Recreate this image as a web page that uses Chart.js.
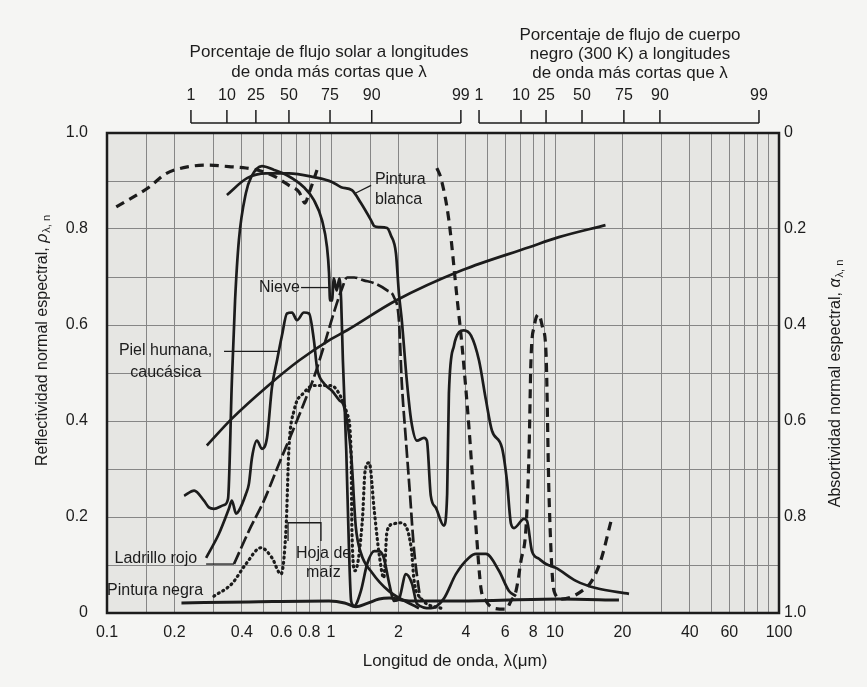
<!DOCTYPE html>
<html>
<head>
<meta charset="utf-8">
<script src="https://cdn.jsdelivr.net/npm/chart.js@4.4.1/dist/chart.umd.min.js"></script>
<style>
  html, body { margin: 0; padding: 0; background: #f5f5f3; }
  canvas { display: block; }
</style>
</head>
<body>
<canvas id="grafico" width="867" height="687"></canvas>
<script>
// ---- datos (longitud de onda en micras, reflectividad) ----

const lineasGrilla = [0.1, 0.15, 0.2, 0.3, 0.4, 0.5, 0.6, 0.7, 0.8, 0.9,
  1, 1.5, 2, 3, 4, 5, 6, 7, 8, 9, 10, 15, 20, 30, 40, 50, 60, 70, 80, 90, 100];
const etiquetasX = [0.1, 0.2, 0.4, 0.6, 0.8, 1, 2, 4, 6, 8, 10, 20, 40, 60, 100];

// escala superior: porcentaje de flujo solar
const solarPct = ['1', '10', '25', '50', '75', '90', '99'];
const solarLambda = [0.237, 0.343, 0.462, 0.649, 0.99, 1.52, 3.8];
// escala superior: cuerpo negro a 300 K
const negroPct = ['1', '10', '25', '50', '75', '90', '99'];
const negroLambda = [4.58, 7.05, 9.12, 13.2, 20.3, 29.4, 81.4];

// Pintura blanca
const blancaLambda = [0.343, 0.422, 0.513, 0.649, 0.839, 1.01, 1.11, 1.24, 1.36, 1.51, 1.56, 1.64, 1.78, 1.85, 1.95, 2.01, 2.07, 2.18, 2.28, 2.42, 2.60, 2.68, 2.79, 2.94, 3.19, 3.30, 3.36, 3.54, 3.73, 3.92, 4.22, 4.58, 4.92, 5.23, 5.80, 6.10, 6.36, 6.56, 7.27, 7.50, 7.89, 8.48, 9.12, 10.1, 12.4, 15.2, 21.4];
const blancaRho = [0.871, 0.906, 0.916, 0.916, 0.908, 0.898, 0.887, 0.881, 0.854, 0.818, 0.806, 0.804, 0.802, 0.787, 0.749, 0.666, 0.610, 0.484, 0.401, 0.359, 0.365, 0.359, 0.244, 0.219, 0.182, 0.248, 0.457, 0.557, 0.585, 0.589, 0.578, 0.526, 0.443, 0.380, 0.344, 0.276, 0.186, 0.177, 0.196, 0.192, 0.129, 0.113, 0.102, 0.094, 0.067, 0.052, 0.040];

// Nieve
const nieveLambda = [0.221, 0.245, 0.271, 0.285, 0.300, 0.333, 0.347, 0.361, 0.373, 0.388, 0.417, 0.440, 0.492, 0.557, 0.636, 0.757, 0.839, 0.912, 0.960, 0.980, 0.990, 1.01, 1.03, 1.06, 1.09, 1.11, 1.13, 1.17, 1.20, 1.23, 1.27, 1.36, 1.45, 1.56, 1.64, 1.72, 1.82, 1.91, 2.01, 2.16, 2.30, 2.42, 2.79, 3.19, 3.61, 4.13, 4.44, 4.92, 5.62, 6.23, 6.70];
const nieveRho = [0.244, 0.255, 0.234, 0.220, 0.217, 0.225, 0.238, 0.484, 0.651, 0.777, 0.875, 0.908, 0.931, 0.923, 0.912, 0.887, 0.860, 0.818, 0.762, 0.708, 0.651, 0.651, 0.697, 0.672, 0.697, 0.651, 0.526, 0.338, 0.150, 0.025, 0.015, 0.046, 0.102, 0.129, 0.129, 0.115, 0.061, 0.025, 0.029, 0.081, 0.061, 0.019, 0.010, 0.030, 0.081, 0.115, 0.123, 0.123, 0.088, 0.046, 0.035];

// Piel humana, caucasica
const pielLambda = [0.277, 0.316, 0.350, 0.361, 0.377, 0.388, 0.417, 0.430, 0.444, 0.467, 0.492, 0.518, 0.545, 0.574, 0.604, 0.636, 0.670, 0.705, 0.757, 0.798, 0.839, 0.866, 0.931, 1.01, 1.09, 1.14, 1.23, 1.29, 1.36, 1.52, 1.82, 2.47];
const pielRho = [0.115, 0.165, 0.217, 0.234, 0.207, 0.213, 0.248, 0.269, 0.324, 0.359, 0.342, 0.365, 0.470, 0.526, 0.578, 0.624, 0.626, 0.610, 0.626, 0.624, 0.568, 0.511, 0.478, 0.463, 0.443, 0.432, 0.330, 0.180, 0.125, 0.085, 0.045, 0.010];

// Ladrillo rojo
const ladrilloLambda = [0.369, 0.430, 0.502, 0.586, 0.684, 0.781, 0.839, 0.931, 1.03, 1.12, 1.18, 1.27, 1.40, 1.56, 1.78, 1.91, 2.01, 2.07, 2.16, 2.25, 2.35, 2.50];
const ladrilloRho = [0.102, 0.171, 0.234, 0.311, 0.386, 0.453, 0.491, 0.557, 0.626, 0.676, 0.699, 0.699, 0.693, 0.687, 0.672, 0.658, 0.610, 0.480, 0.360, 0.250, 0.130, 0.030];

// Hoja de maiz
const maizLambda = [0.300, 0.361, 0.417, 0.487, 0.545, 0.598, 0.630, 0.649, 0.684, 0.757, 0.839, 1.00, 1.11, 1.18, 1.23, 1.24, 1.28, 1.38, 1.42, 1.48, 1.56, 1.64, 1.72, 1.78, 1.91, 2.05, 2.28, 2.35, 2.52, 3.19];
const maizRho = [0.035, 0.061, 0.102, 0.136, 0.115, 0.081, 0.177, 0.344, 0.422, 0.459, 0.474, 0.474, 0.449, 0.415, 0.332, 0.171, 0.088, 0.192, 0.296, 0.313, 0.213, 0.123, 0.073, 0.171, 0.186, 0.188, 0.136, 0.067, 0.031, 0.008];

// Pintura negra
const negraLambda = [0.215, 0.430, 0.98, 1.15, 1.29, 1.45, 1.64, 1.82, 2.23, 3.73, 10.4, 19.3];
const negraRho = [0.021, 0.023, 0.025, 0.021, 0.013, 0.020, 0.029, 0.031, 0.025, 0.025, 0.029, 0.027];

// curva lisa creciente (sin etiqueta)
const lisaLambda = [0.279, 0.361, 0.513, 0.720, 0.980, 1.18, 1.95, 3.84, 7.66, 10.4, 16.8];
const lisaRho = [0.349, 0.405, 0.470, 0.526, 0.568, 0.589, 0.651, 0.714, 0.762, 0.783, 0.808];

// curva a trazos gruesos (dos tramos, sin etiqueta)
const trazosLambdaA = [0.110, 0.154, 0.183, 0.232, 0.285, 0.350, 0.417, 0.502, 0.568, 0.649, 0.720, 0.765, 0.798, 0.866];
const trazosRhoA = [0.846, 0.887, 0.915, 0.930, 0.933, 0.930, 0.927, 0.919, 0.908, 0.891, 0.877, 0.854, 0.875, 0.923];
const trazosLambdaB = [2.97, 3.10, 3.36, 3.65, 3.84, 4.13, 4.44, 4.67, 4.92, 5.34, 6.04, 6.36, 6.70, 7.05, 7.42, 7.66, 7.81, 8.10, 8.45, 8.80, 9.12, 9.40, 9.90, 10.7, 13.2, 14.6, 16.0, 17.8];
const trazosRhoB = [0.927, 0.905, 0.818, 0.658, 0.560, 0.386, 0.177, 0.052, 0.025, 0.010, 0.008, 0.025, 0.046, 0.109, 0.177, 0.338, 0.526, 0.600, 0.622, 0.595, 0.541, 0.248, 0.046, 0.029, 0.046, 0.067, 0.109, 0.192];

// ---- estilo ----
const FUENTE = "'Liberation Sans', Arial, sans-serif";
const TINTA = '#1c1c1c';
const GRILLA = '#868686';

function puntos(lam, rho) {
  return lam.map((x, i) => ({ x: x, y: rho[i] }));
}

// anotaciones en coordenadas de datos (lambda, rho)
const textos = [
  { t: 'Pintura', x: 1.57, y: 0.902 },
  { t: 'blanca', x: 1.57, y: 0.862 },
  { t: 'Nieve', x: 0.477, y: 0.678 },
  { t: 'Piel humana,', x: 0.113, y: 0.547 },
  { t: 'caucásica', x: 0.127, y: 0.501 },
  { t: 'Ladrillo rojo', x: 0.108, y: 0.113 },
  { t: 'Pintura negra', x: 0.1, y: 0.046 },
  { t: 'Hoja de', x: 0.698, y: 0.123 },
  { t: 'maíz', x: 0.774, y: 0.084 }
];
const guias = [
  [[1.51, 0.891], [1.29, 0.875]],
  [[0.735, 0.678], [0.98, 0.678]],
  [[0.333, 0.545], [0.58, 0.545]],
  [[0.277, 0.102], [0.369, 0.102]],
  [[0.643, 0.150], [0.643, 0.188], [0.902, 0.188], [0.902, 0.150]]
];

function tituloGirado(ctx, cx, cy, principal, griega, sub, size) {
  ctx.save();
  ctx.translate(cx, cy);
  ctx.rotate(-Math.PI / 2);
  ctx.fillStyle = TINTA;
  ctx.textBaseline = 'middle';
  ctx.textAlign = 'left';
  ctx.font = size + 'px ' + FUENTE;
  const w1 = ctx.measureText(principal).width;
  ctx.font = 'italic ' + size + 'px ' + FUENTE;
  const w2 = ctx.measureText(griega).width;
  ctx.font = Math.round(size * 0.68) + 'px ' + FUENTE;
  const w3 = ctx.measureText(sub).width;
  let x = -(w1 + w2 + w3 + 2) / 2;
  ctx.font = size + 'px ' + FUENTE;
  ctx.fillText(principal, x, 0);
  x += w1;
  ctx.font = 'italic ' + size + 'px ' + FUENTE;
  ctx.fillText(griega, x, 0);
  x += w2 + 1;
  ctx.font = Math.round(size * 0.68) + 'px ' + FUENTE;
  ctx.fillText(sub, x, 4);
  ctx.restore();
}

function corchete(ctx, xs, lambdas, pct) {
  const px = lambdas.map(v => xs.getPixelForValue(v));
  ctx.beginPath();
  ctx.moveTo(px[0], 123);
  ctx.lineTo(px[px.length - 1], 123);
  px.forEach(p => { ctx.moveTo(p, 110); ctx.lineTo(p, 123); });
  ctx.stroke();
  ctx.textAlign = 'center';
  ctx.textBaseline = 'middle';
  ctx.font = '16px ' + FUENTE;
  px.forEach((p, i) => ctx.fillText(pct[i], p, 96));
}

const decoracion = {
  id: 'decoracion',
  beforeDraw(chart) {
    const ctx = chart.ctx, a = chart.chartArea;
    ctx.save();
    ctx.fillStyle = '#f5f5f3';
    ctx.fillRect(0, 0, chart.width, chart.height);
    ctx.fillStyle = '#e6e6e3';
    ctx.fillRect(a.left, a.top, a.right - a.left, a.bottom - a.top);
    ctx.restore();
  },
  afterDraw(chart) {
    const ctx = chart.ctx, a = chart.chartArea;
    const xs = chart.scales.x, ys = chart.scales.y;
    ctx.save();
    // marco
    ctx.strokeStyle = TINTA;
    ctx.lineWidth = 2.5;
    ctx.strokeRect(a.left, a.top, a.right - a.left, a.bottom - a.top);

    // etiquetas de curvas y guias
    ctx.fillStyle = TINTA;
    ctx.font = '16px ' + FUENTE;
    ctx.textAlign = 'left';
    ctx.textBaseline = 'middle';
    textos.forEach(o => ctx.fillText(o.t, xs.getPixelForValue(o.x), ys.getPixelForValue(o.y)));
    ctx.lineWidth = 1.3;
    guias.forEach(g => {
      ctx.beginPath();
      g.forEach((p, i) => {
        const X = xs.getPixelForValue(p[0]), Y = ys.getPixelForValue(p[1]);
        if (i === 0) ctx.moveTo(X, Y); else ctx.lineTo(X, Y);
      });
      ctx.stroke();
    });

    // escalas superiores
    ctx.lineWidth = 1.5;
    corchete(ctx, xs, solarLambda, solarPct);
    corchete(ctx, xs, negroLambda, negroPct);
    ctx.font = '17px ' + FUENTE;
    ctx.textAlign = 'center';
    ctx.fillText('Porcentaje de flujo solar a longitudes', 329, 52);
    ctx.fillText('de onda más cortas que λ', 329, 72);
    ctx.fillText('Porcentaje de flujo de cuerpo', 630, 35);
    ctx.fillText('negro (300 K) a longitudes', 630, 54);
    ctx.fillText('de onda más cortas que λ', 630, 73);

    // titulos de ejes
    ctx.fillText('Longitud de onda, λ(μm)', 455, 661);
    ctx.restore();
    tituloGirado(ctx, 43, 340, 'Reflectividad normal espectral, ', 'ρ', 'λ, n', 16);
    tituloGirado(ctx, 836, 383, 'Absortividad normal espectral, ', 'α', 'λ, n', 16);
  }
};

const ctx = document.getElementById('grafico').getContext('2d');
const grafico = new Chart(ctx, {
  type: 'line',
  data: {
    datasets: [
      { label: 'Pintura blanca', data: puntos(blancaLambda, blancaRho) },
      { label: 'Nieve', data: puntos(nieveLambda, nieveRho) },
      { label: 'Piel humana, caucásica', data: puntos(pielLambda, pielRho) },
      { label: 'Ladrillo rojo', data: puntos(ladrilloLambda, ladrilloRho), borderDash: [13, 4] },
      { label: 'Hoja de maíz', data: puntos(maizLambda, maizRho), borderDash: [1, 4.2], borderCapStyle: 'round', borderWidth: 3.2 },
      { label: 'Pintura negra', data: puntos(negraLambda, negraRho), borderWidth: 3 },
      { label: 'lisa', data: puntos(lisaLambda, lisaRho) },
      { label: 'trazos', data: puntos(trazosLambdaA, trazosRhoA).concat([{ x: 1.6, y: null }], puntos(trazosLambdaB, trazosRhoB)), borderDash: [9, 6], borderWidth: 3.2 }
    ]
  },
  options: {
    animation: false,
    responsive: false,
    devicePixelRatio: 1,
    layout: { padding: { top: 133, left: 0, right: 0, bottom: 0 } },
    plugins: { legend: { display: false }, tooltip: { enabled: false } },
    elements: {
      point: { radius: 0 },
      line: { borderColor: TINTA, borderWidth: 2.7, cubicInterpolationMode: 'monotone', fill: false }
    },
    scales: {
      x: {
        type: 'logarithmic',
        min: 0.1,
        max: 100,
        afterBuildTicks: s => { s.ticks = lineasGrilla.map(v => ({ value: v })); },
        afterFit: s => { s.height = 74; },
        grid: { color: GRILLA, lineWidth: 1, drawTicks: false },
        border: { display: false },
        ticks: {
          autoSkip: false, maxRotation: 0, padding: 10, color: TINTA,
          font: { family: FUENTE, size: 16 },
          callback: v => etiquetasX.includes(v) ? String(v) : ''
        }
      },
      y: {
        position: 'left',
        min: 0,
        max: 1,
        afterFit: s => { s.width = 107; },
        grid: { color: GRILLA, lineWidth: 1, drawTicks: false },
        border: { display: false },
        ticks: {
          stepSize: 0.1, autoSkip: false, padding: 19, color: TINTA,
          font: { family: FUENTE, size: 16 },
          callback: v => {
            const t = Math.round(v * 10);
            return t % 2 ? '' : (t === 0 ? '0' : (t / 10).toFixed(1));
          }
        }
      },
      y2: {
        position: 'right',
        min: 0,
        max: 1,
        reverse: true,
        afterFit: s => { s.width = 88; },
        grid: { display: false, drawTicks: false },
        border: { display: false },
        ticks: {
          stepSize: 0.2, autoSkip: false, padding: 5, color: TINTA,
          font: { family: FUENTE, size: 16 },
          callback: v => {
            const t = Math.round(v * 10);
            return t === 0 ? '0' : (t / 10).toFixed(1);
          }
        }
      }
    }
  },
  plugins: [decoracion]
});
</script>
</body>
</html>
